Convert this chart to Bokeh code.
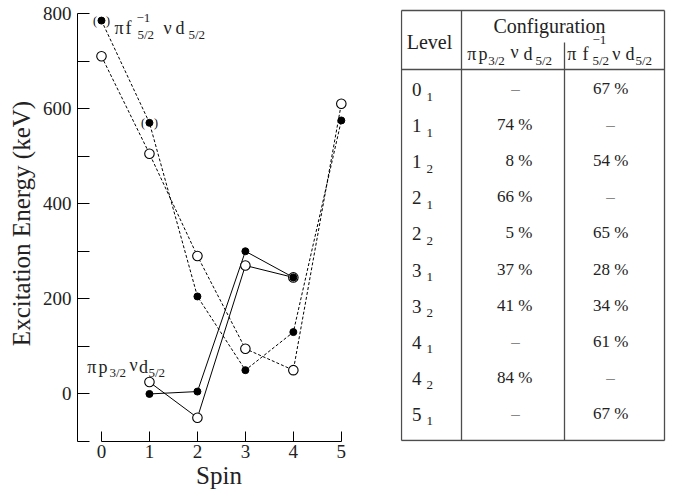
from bokeh.plotting import figure
from bokeh.models import Range1d, FixedTicker, Label, ColumnDataSource
from bokeh.layouts import row
from bokeh.embed import file_html
from bokeh.resources import INLINE
from bokeh.core.properties import value

FONT = "Liberation Serif"
INK = "#222222"

# ---------------- data ----------------
spin_f = [0, 1, 2, 3, 4, 5]
energy_f_open = [710, 505, 290, 95, 50, 610]
energy_f_filled = [785, 570, 205, 50, 130, 575]
tentative_f_filled = [True, True, False, False, False, False]

spin_p = [1, 2, 3, 4]
energy_p_open = [25, -50, 270, 245]
energy_p_filled = [0, 5, 300, 245]

x_ticks = [0, 1, 2, 3, 4, 5]
y_major_ticks = [0, 200, 400, 600, 800]
y_minor_ticks = [-100, 100, 300, 500, 700]

levels = ["0", "1", "1", "2", "2", "3", "3", "4", "4", "5"]
level_index = ["1", "1", "2", "1", "2", "1", "2", "1", "2", "1"]
share_p = [None, 74, 8, 66, 5, 37, 41, None, 84, None]
share_f = [67, None, 54, None, 65, 28, 34, 61, None, 67]

# frame geometry (shared by both panels, which a row aligns)
TOP, BOTTOM = 5, 441
PX_PER_KEV = 431 / 906.2

# ---------------- chart ----------------
p = figure(width=400, height=494,
           x_range=Range1d(-0.5, 5.4),
           y_range=Range1d(-100, -100 + (BOTTOM - TOP) / PX_PER_KEV),
           output_backend="svg", toolbar_location=None,
           min_border_left=77, min_border_right=40,
           min_border_top=TOP, min_border_bottom=494 - BOTTOM)
p.grid.visible = False
p.outline_line_color = None
p.background_fill_color = "white"

xa = p.xaxis[0]
xa.ticker = FixedTicker(ticks=x_ticks)
xa.bounds = (0, 5)
xa.major_tick_in = 10
xa.major_tick_out = 0
xa.minor_tick_in = 0
xa.minor_tick_out = 0
xa.axis_line_color = "black"
xa.major_tick_line_color = "black"
xa.major_label_text_font = FONT
xa.major_label_text_font_size = "19px"
xa.major_label_text_color = INK
xa.major_label_standoff = 3
xa.axis_label = "Spin"
xa.axis_label_text_font = FONT
xa.axis_label_text_font_size = "25px"
xa.axis_label_text_font_style = "normal"
xa.axis_label_text_color = INK
xa.axis_label_standoff = 1

ya = p.yaxis[0]
ya.ticker = FixedTicker(ticks=y_major_ticks, minor_ticks=y_minor_ticks)
ya.bounds = (-100, 800)
ya.major_tick_in = 12
ya.major_tick_out = 0
ya.minor_tick_in = 12
ya.minor_tick_out = 0
ya.axis_line_color = "black"
ya.major_tick_line_color = "black"
ya.minor_tick_line_color = "black"
ya.major_label_text_font = FONT
ya.major_label_text_font_size = "19px"
ya.major_label_text_color = INK
ya.major_label_standoff = 6
ya.axis_label = "Excitation Energy (keV)"
ya.axis_label_text_font = FONT
ya.axis_label_text_font_size = "25px"
ya.axis_label_text_font_style = "normal"
ya.axis_label_text_color = INK
ya.axis_label_standoff = 5

# dashed configuration (pi f^-1 nu d)
p.line(spin_f, energy_f_open, line_color="black", line_width=1, line_dash="3 2")
p.line(spin_f, energy_f_filled, line_color="black", line_width=1, line_dash="3 2")
# solid configuration (pi p nu d)
p.line(spin_p, energy_p_open, line_color="black", line_width=1)
p.line(spin_p, energy_p_filled, line_color="black", line_width=1)

p.scatter(spin_f, energy_f_open, marker="circle", size=9.5, fill_color="white",
          line_color="black", line_width=1.1)
p.scatter(spin_p, energy_p_open, marker="circle", size=9.5, fill_color="white",
          line_color="black", line_width=1.1)
p.scatter(spin_f, energy_f_filled, marker="circle", size=7, fill_color="black",
          line_color="black")
p.scatter(spin_p, energy_p_filled, marker="circle", size=7, fill_color="black",
          line_color="black")

tx = [s for s, t in zip(spin_f, tentative_f_filled) if t]
ty = [e for e, t in zip(energy_f_filled, tentative_f_filled) if t]
p.text(x=tx, y=ty, text=["("] * len(tx), x_offset=-4.5, text_align="right",
       text_baseline="middle", text_font=value(FONT), text_font_size="12px",
       text_color="black")
p.text(x=tx, y=ty, text=[")"] * len(tx), x_offset=4.5, text_align="left",
       text_baseline="middle", text_font=value(FONT), text_font_size="12px",
       text_color="black")

# pixel -> data helpers for label placement
def dx(px):
    return -0.5 + (px - 77) / (283 / 5.9)

def dy(py):
    return -100 + (BOTTOM - py) / PX_PER_KEV

def plab(px, py, txt, size):
    p.add_layout(Label(x=dx(px), y=dy(py), text=txt, text_font=FONT,
                       text_font_size=size, text_color=INK,
                       text_align="left", text_baseline="middle"))

# pi f^-1_{5/2} nu d_{5/2}
plab(114, 27.5, "π", "18px")
plab(125, 27.5, "f", "18px")
plab(136, 17.5, "−1", "13px")
plab(137, 34, "5/2", "13px")
plab(163, 27.5, "ν", "18px")
plab(175, 27.5, "d", "18px")
plab(188, 34, "5/2", "13px")
# pi p_{3/2} nu d_{5/2}
plab(86.7, 366, "π", "18px")
plab(98, 366, "p", "18px")
plab(109, 372.2, "3/2", "13px")
plab(129, 364, "ν", "18px")
plab(138.5, 366, "d", "18px")
plab(148, 372.2, "5/2", "13px")

# ---------------- table ----------------
t = figure(width=283, height=494, x_range=Range1d(0, 283),
           y_range=Range1d(BOTTOM, TOP),
           output_backend="svg", toolbar_location=None,
           x_axis_type=None, y_axis_type=None,
           min_border_left=0, min_border_right=0,
           min_border_top=TOP, min_border_bottom=494 - BOTTOM)
t.grid.visible = False
t.outline_line_color = None
t.background_fill_color = "white"

GRID = "#4d4d4d"
t.segment(x0=[1, 1, 1, 264, 61, 164, 1],
          y0=[10, 440, 10, 10, 10, 42, 69],
          x1=[264, 264, 1, 264, 61, 164, 264],
          y1=[10, 440, 440, 440, 440, 440, 69],
          line_color=GRID, line_width=1.3)

def tlab(x, y, txt, size, align="left"):
    t.add_layout(Label(x=x, y=y, text=txt, text_font=FONT, text_font_size=size,
                       text_color=INK, text_align=align,
                       text_baseline="middle"))

tlab(29, 41, "Level", "20px", "center")
tlab(149, 25.5, "Configuration", "20px", "center")
# pi p_{3/2} nu d_{5/2}
tlab(66.7, 53, "π", "18px")
tlab(78, 53, "p", "18px")
tlab(87.7, 60, "3/2", "13px")
tlab(110, 51, "ν", "18px")
tlab(123, 53, "d", "18px")
tlab(135, 60, "5/2", "13px")
# pi f^-1_{5/2} nu d_{5/2}
tlab(166.7, 53, "π", "18px")
tlab(182, 53, "f", "18px")
tlab(192, 39.5, "−1", "13px")
tlab(192, 60, "5/2", "13px")
tlab(211.7, 53, "ν", "18px")
tlab(225, 53, "d", "18px")
tlab(235, 60, "5/2", "13px")

row_y = [88 + 36.1 * i for i in range(len(levels))]

t.text(x=[21] * len(levels), y=[yy + 1 for yy in row_y], text=levels,
       text_align="right", text_baseline="middle", text_font=value(FONT),
       text_font_size="19px", text_color=INK)
t.text(x=[26] * len(levels), y=[yy + 8 for yy in row_y], text=level_index,
       text_align="left", text_baseline="middle", text_font=value(FONT),
       text_font_size="13px", text_color=INK)

def column(vals, x_num, x_dash):
    num = ColumnDataSource(dict(
        x=[x_num for v in vals if v is not None],
        y=[yy for v, yy in zip(vals, row_y) if v is not None],
        text=[f"{v} %" for v in vals if v is not None]))
    dash = ColumnDataSource(dict(
        x=[x_dash for v in vals if v is None],
        y=[yy for v, yy in zip(vals, row_y) if v is None],
        text=["–" for v in vals if v is None]))
    t.text(x="x", y="y", text="text", source=num, text_align="right",
           text_baseline="middle", text_font=value(FONT),
           text_font_size="17px", text_color=INK)
    t.text(x="x", y="y", text="text", source=dash, text_align="center",
           text_baseline="middle", text_font=value(FONT),
           text_font_size="17px", text_color="#888888")

column(share_p, 132, 115)
column(share_f, 228, 210)

layout = row(p, t)
open("out.html", "w").write(file_html(layout, INLINE))
